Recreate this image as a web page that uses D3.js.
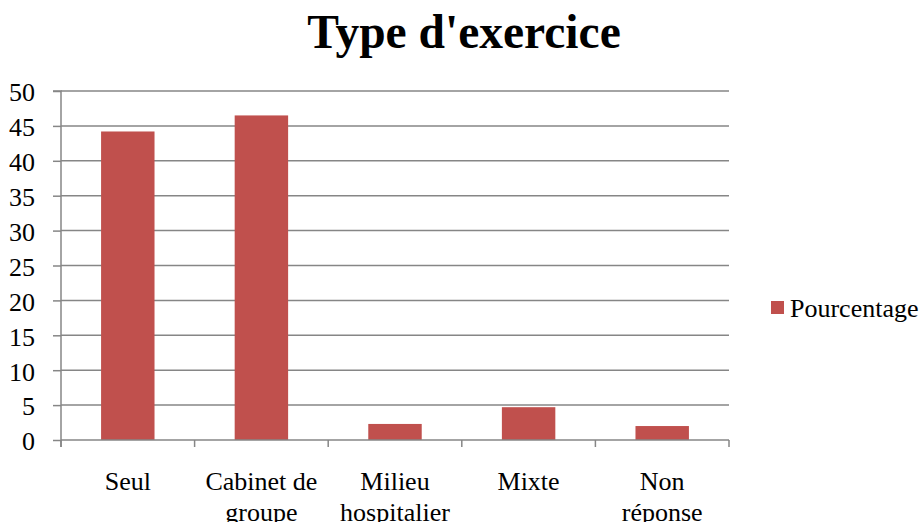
<!DOCTYPE html>
<html>
<head>
<meta charset="utf-8">
<script src="https://cdn.jsdelivr.net/npm/d3@7"></script>
<style>
  body { margin: 0; background: #fff; }
</style>
</head>
<body>
<figure id="chart" style="margin:0"></figure>
<script>
var categories = [["Seul"], ["Cabinet de", "groupe"], ["Milieu", "hospitalier"], ["Mixte"], ["Non", "réponse"]];
var values = [44.2, 46.5, 2.3, 4.7, 2.0];
var yTicks = [0, 5, 10, 15, 20, 25, 30, 35, 40, 45, 50];
var seriesName = "Pourcentage";
var title = "Type d'exercice";

var serif = "Liberation Serif";

var dimensions = {
    width: 923,
    height: 522,
    margin: { top: 91, right: 194, bottom: 82, left: 61 }
};
dimensions.boundedWidth = dimensions.width - dimensions.margin.left - dimensions.margin.right;
dimensions.boundedHeight = dimensions.height - dimensions.margin.top - dimensions.margin.bottom;

var svgRoot = d3.select("figure#chart")
    .append("svg")
    .attr("width", dimensions.width)
    .attr("height", dimensions.height)
    .attr("font-family", serif);

svgRoot.append("text")
    .attr("x", 464)
    .attr("y", 48)
    .attr("text-anchor", "middle")
    .attr("font-size", 47.5)
    .attr("font-weight", "bold")
    .text(title);

var svg = svgRoot.append("g")
    .attr("transform", `translate(${dimensions.margin.left},${dimensions.margin.top})`);

var keys = categories.map(c => c.join(" "));

var xScale = d3.scaleBand()
    .domain(keys)
    .range([0, dimensions.boundedWidth])
    .paddingInner(0.6)
    .paddingOuter(0.3);

var yScale = d3.scaleLinear()
    .domain([0, 50])
    .range([dimensions.boundedHeight, 0]);

// gridlines
svg.append("g")
    .selectAll("line")
    .data(yTicks.filter(d => d > 0))
    .enter()
    .append("line")
    .attr("x1", 0)
    .attr("x2", dimensions.boundedWidth)
    .attr("y1", d => yScale(d))
    .attr("y2", d => yScale(d))
    .attr("stroke", "#868686")
    .attr("stroke-width", 1.5);

// bars
svg.selectAll("rect")
    .data(values)
    .enter()
    .append("rect")
    .attr("x", (d, i) => xScale(keys[i]))
    .attr("y", d => yScale(d))
    .attr("width", xScale.bandwidth())
    .attr("height", d => yScale(0) - yScale(d))
    .attr("fill", "#C0504D");

// y axis
var yAxis = svg.append("g")
    .call(d3.axisLeft(yScale).tickValues(yTicks).tickSize(8).tickPadding(18));
yAxis.attr("font-family", serif).attr("font-size", 26);
yAxis.select(".domain").attr("stroke", "#868686").attr("stroke-width", 1.5)
    .attr("d", `M-8,0H0V${dimensions.boundedHeight + 7}`);
yAxis.selectAll(".tick line").attr("stroke", "#868686").attr("stroke-width", 1.5);
yAxis.selectAll("text")
    .attr("dy", "0.38em")
    .attr("fill", "#000");

// x axis: ticks at category boundaries
var step = xScale.step();
var boundaries = d3.range(keys.length + 1).map(i => i * step);
var xAxis = svg.append("g")
    .attr("transform", `translate(0,${dimensions.boundedHeight})`);
xAxis.append("line")
    .attr("x1", 0).attr("x2", dimensions.boundedWidth)
    .attr("stroke", "#868686").attr("stroke-width", 1.5);
xAxis.selectAll("line.tick")
    .data(boundaries)
    .enter()
    .append("line")
    .attr("class", "tick")
    .attr("x1", d => d).attr("x2", d => d)
    .attr("y1", 0).attr("y2", 7)
    .attr("stroke", "#868686").attr("stroke-width", 1.5);

var labels = xAxis.selectAll("text")
    .data(categories)
    .enter()
    .append("text")
    .attr("text-anchor", "middle")
    .attr("x", (d, i) => xScale(keys[i]) + xScale.bandwidth() / 2)
    .attr("y", 50)
    .attr("font-size", 26);
labels.selectAll("tspan")
    .data(d => d)
    .enter()
    .append("tspan")
    .attr("x", function () { return d3.select(this.parentNode).attr("x"); })
    .attr("dy", (d, i) => i === 0 ? 0 : 31)
    .text(d => d);

// legend
var legend = svgRoot.append("g")
    .attr("transform", "translate(771,301)");
legend.append("rect")
    .attr("width", 13).attr("height", 13)
    .attr("fill", "#C0504D");
legend.append("text")
    .attr("x", 19).attr("y", 15.5)
    .attr("font-size", 26)
    .text(seriesName);
</script>
</body>
</html>
